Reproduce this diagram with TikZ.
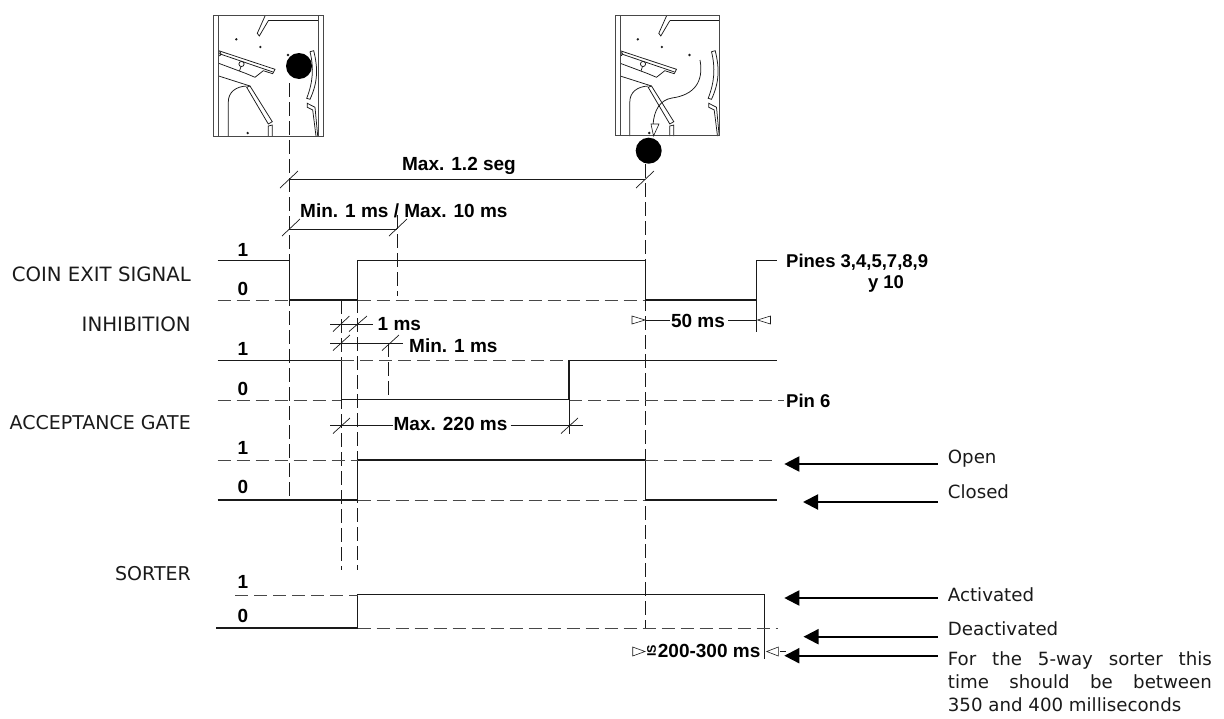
\documentclass[tikz,border=0pt]{standalone}
\usepackage{fontspec}
\setmainfont{DejaVu Sans}
\newfontfamily\boldlab{Liberation Sans}
\usetikzlibrary{arrows.meta}
\definecolor{ink}{HTML}{1A1A1A}
\tikzset{
  x=1pt,y=-1pt,
  sig/.style={draw=ink,line width=1.05pt},
  thinline/.style={draw=ink,line width=0.85pt},
  dashline/.style={draw=ink!80,line width=0.85pt,dash pattern=on 13pt off 6pt},
  vdash/.style={draw=ink,line width=0.85pt,dash pattern=on 14pt off 5pt},
  tickmark/.style={draw=ink,line width=0.7pt},
  mech/.style={draw=ink,line width=0.75pt},
  mframe/.style={draw=ink!80,line width=1pt},
  bl/.style={font=\boldlab\bfseries\fontsize{19}{22}\selectfont,inner sep=0pt,text=black},
  lab/.style={font=\fontsize{19}{22}\selectfont,inner sep=0pt,anchor=east,text=ink},
  leg/.style={font=\fontsize{18.2}{23}\selectfont,inner sep=0pt,anchor=west,text=ink},
  opentri/.style={draw=ink,line width=0.6pt,fill=white},
  bigarrow/.style={draw=black,line width=2pt,-{Triangle[length=15pt,width=15pt]}},
}
\newcommand{\mechparts}{%
  \draw[mech] (265,16)--(257.3,33.3)--(259.3,36)--(268.3,20.7);
  \fill[ink] (236.3,39.3) circle (1.3) (260.3,47) circle (1.3) (247.7,133) circle (1.3);
  \draw[mech] (218.7,50.7)--(275,69.3)--(272.7,73.7)--(263.3,70.7)--(255,77.3)--(246,73.5)--(218.7,63.3);
  \draw[mech] (218.7,53.5)--(273,72);
  \draw[mech] (218.7,56) arc (90:-90:2.2);
  \draw[mech] (241.5,64) circle (2.6);
  \draw[mech] (241,66.5)--(239.5,71);
  \draw[mech] (218.7,76)--(250,86);
  \draw[mech] (228.3,136)--(228.3,102) .. controls (228.3,92) and (236,86.5) .. (246.7,86);
  \draw[mech] (246.7,87.3)--(250,86)--(272.3,121.7)--(268.3,124)--cycle;
  \draw[mech] (268.3,136)--(268.3,126)--(272.3,125)--(272.3,136);
  \draw[mech] (310,51.7)--(313.7,50.7) .. controls (318,68) and (318,82) .. (310,99.3)--(306.7,98.3) .. controls (313,82) and (314,68) .. (310,51.7);
  \draw[mech] (316,136)--(312.7,110)--(307.3,107.3)--(307.3,103.3)--(315,107.3)--(317.7,136);
}
\begin{document}
\begin{tikzpicture}
\useasboundingbox (0,0) rectangle (1224,718);
\fill[white] (0,0) rectangle (1224,718);

% left mechanism
\begin{scope}
 \mechparts
 \draw[mframe] (213,136)--(213,15)--(323,15)--(323,136)--cycle;
 \draw[mframe] (218.7,15)--(218.7,136) (318,15)--(318,136);
 \draw[mech] (268.3,20.7)--(318,20.7);
 \fill[ink] (288,55) circle (1.3);
 \fill[black] (299,66) circle (13);
\end{scope}
% right mechanism
\begin{scope}[shift={(401.5,0)}]
 \mechparts
 \fill[ink] (288,55) circle (1.3);
\end{scope}
\draw[mframe] (615,135)--(615,15)--(719,15)--(719,135)--cycle;
\draw[mframe] (620,15)--(620,135);
\draw[mech] (669.8,20.7)--(719,20.7);
\draw[mech] (700,60) .. controls (704,82) and (694,95) .. (672,98) .. controls (660,100) and (654,110) .. (653,125);
\draw[opentri] (651,124)--(659,124)--(653.5,136)--cycle;
\fill[black] (648.7,150.7) circle (13);

% vertical guides
\draw[vdash] (289.5,83)--(289.5,499);
\draw[vdash] (645.3,164)--(645.3,628);
\draw[vdash] (341.2,300)--(341.2,570);
\draw[vdash] (357.5,261)--(357.5,570);
\draw[vdash] (397,215)--(397,296);
\draw[vdash] (388,343)--(388,399);

% coin exit signal
\draw[sig] (217.5,260.7)--(289.5,260.7)--(289.5,300)--(357.5,300)--(357.5,260.7)--(645.3,260.7)--(645.3,300)--(756.7,300)--(756.7,260.7)--(777,260.7);
\draw[dashline] (217.5,300)--(289.5,300);
\draw[dashline] (357.5,300)--(645.3,300);
% inhibition
\draw[sig] (217.5,360.3)--(341.2,360.3)--(341.2,399.5)--(569,399.5)--(569,360.3)--(777,360.3);
\draw[dashline] (341.2,360.3)--(569,360.3);
\draw[dashline] (217.5,400)--(341.2,400);
\draw[dashline] (569,400)--(784,400);
% acceptance gate
\draw[sig] (217.5,500)--(357.5,500)--(357.5,460)--(645.3,460)--(645.3,500)--(777,500);
\draw[dashline] (217.5,460)--(357.5,460);
\draw[dashline] (357.5,500)--(645.3,500);
\draw[dashline] (645.3,460)--(777,460);
% sorter
\draw[sig] (216,628)--(357.5,628)--(357.5,594.5)--(764.3,594.5)--(764.3,659);
\draw[dashline] (235,595)--(357.5,595);
\draw[dashline] (357.5,628)--(778,628);

% level labels
\node[bl] (c1) at (243,250) {1};
\node[bl] (c0) at (243,288.5) {0};
\node[bl] (i1) at (243,348.5) {1};
\node[bl] (i0) at (243,389) {0};
\node[bl] (a1) at (243,448) {1};
\node[bl] (a0) at (243,487) {0};
\node[bl] (s1) at (243,582) {1};
\node[bl] (s0) at (243,616) {0};

% signal names
\node[lab,font=\fontsize{19.7}{22}\selectfont] (coin) at (191,274) {COIN EXIT SIGNAL};
\node[lab,font=\fontsize{19.8}{22}\selectfont] (inh) at (191,324) {INHIBITION};
\node[lab] (acc) at (191,423) {ACCEPTANCE GATE};
\node[lab] (sor) at (191,574) {SORTER};

% dimensions
\draw[thinline] (289.5,179.3)--(645.3,179.3);
\draw[tickmark] (280,188)--(298,171) (636,188)--(654,171);
\node[bl] (d12) at (459,166) {Max. 1.2 seg};

\draw[thinline] (289.5,229)--(397,229);
\draw[tickmark] (282,236)--(300,219) (389,236)--(407,219);
\node[bl,anchor=west] (dmin) at (300,210.5) {Min. 1 ms / Max. 10 ms};

\node[bl,anchor=west] (d1) at (377.5,324) {1 ms};
\draw[thinline] (330,324)--(373,324);
\draw[tickmark] (333,331.5)--(349.5,316) (349,331.5)--(367,316);

\node[bl,anchor=west] (dm1) at (409,346) {Min. 1 ms};
\draw[thinline] (330,343)--(403,343);
\draw[tickmark] (333,350.5)--(350,335) (382,350.5)--(399,335);

\node[bl] (d220) at (450.5,424) {Max. 220 ms};
\coordinate (d220l) at (330,425.7);
\coordinate (d220r) at (583,425.7);
\draw[thinline] (d220l)--(d220.west|-d220l);
\draw[thinline] ([xshift=3pt]d220.east|-d220r)--(d220r);
\draw[tickmark] (333,433.5)--(350,418) (561,433.5)--(578,418);
\draw[thinline] (569,400)--(569,434);

\node[bl] (d50) at (698,320.5) {50 ms};
\coordinate (d50l) at (645.3,320);
\coordinate (d50r) at (756.7,320);
\draw[thinline] (d50l)--([xshift=-1pt]d50.west|-d50l);
\draw[thinline] ([xshift=3pt]d50.east|-d50r)--(d50r);
\draw[thinline] (756.7,300)--(756.7,332);
\draw[opentri] (632,316)--(645,320)--(632,324)--cycle;
\draw[opentri] (770.5,316)--(757.5,320)--(770.5,324)--cycle;

\node[bl,anchor=west] (pines) at (786,262) {\fontsize{18.5}{22}\selectfont Pines 3,4,5,7,8,9};
\node[bl] (y10) at (886,284) {\fontsize{18.5}{22}\selectfont y 10};
\node[bl,anchor=west] (pin6) at (786,400.7) {\fontsize{18.5}{22}\selectfont Pin 6};

\node[bl,anchor=west] (d200) at (657.7,651) {200-300 ms};
\node[bl,rotate=90] (dis) at (651.5,651) {\fontsize{12.5}{14}\selectfont IS};
\draw[opentri] (632.7,647)--(645,651.5)--(632.7,656)--cycle;
\draw[opentri] (778.3,647)--(766.7,651.5)--(778.3,656)--cycle;
\draw[thinline] (780,651.7)--(786,651.7);

% legend
\node[leg] (open) at (947.7,459) {Open};
\node[leg] (closed) at (947.7,492) {Closed};
\node[leg] (activ) at (947.7,595) {Activated};
\node[leg] (deact) at (947.7,629) {Deactivated};
\node[leg,text width=264pt,align=justify,anchor=north west] (note) at (947.7,651.5)
  {For the 5-way sorter this\linebreak time should be between\linebreak 350 and 400 milliseconds};
\coordinate (aopen) at (784.3,464);
\coordinate (aclosed) at (803,502);
\coordinate (aact) at (784.3,598);
\coordinate (adeact) at (803.5,636.7);
\coordinate (anote) at (784.3,655.7);
\draw[bigarrow] (937.7,464)--(aopen);
\draw[bigarrow] (937.7,502)--(aclosed);
\draw[bigarrow] (937.7,598)--(aact);
\draw[bigarrow] (937.7,636.7)--(adeact);
\draw[bigarrow] (937.7,655.7)--(anote);
\end{tikzpicture}
\end{document}
